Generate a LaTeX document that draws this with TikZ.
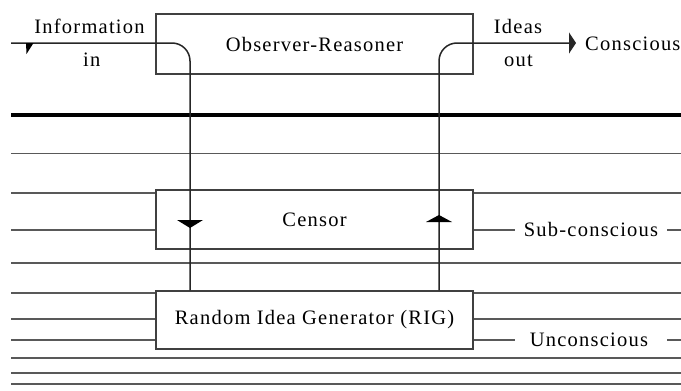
\documentclass[tikz,border=0pt]{standalone}
\usepackage{fontspec}
\setmainfont{Liberation Serif}[LetterSpace=6]
\usetikzlibrary{arrows.meta}
\begin{document}
\begin{tikzpicture}[x=1pt,y=-1pt,
  lay/.style={line width=1.6pt, draw=black!65},
  thick layer/.style={line width=4pt, draw=black},
  box/.style={draw=black!75, line width=1.4pt, fill=white, minimum width=317pt,
              inner sep=0pt, font=\fontsize{20.5}{24}\selectfont},
  lbl/.style={font=\fontsize{20.5}{24}\selectfont, inner sep=0pt, anchor=base},
  conn/.style={line width=1.5pt, draw=black!85},
  marker/.style={fill=black}]
\useasboundingbox (0,0) rectangle (681,391);
% layer lines
\draw[thick layer] (11,115) -- (681,115);
\foreach \yy in {153.5,263,358,373,384} {\draw[lay] (11,\yy) -- (681,\yy);}
\foreach \yy in {193,230} {\draw[lay] (11,\yy) -- (156,\yy);}
\foreach \yy in {293,319,340} {\draw[lay] (11,\yy) -- (156,\yy);}
\foreach \yy in {193} {\draw[lay] (473,\yy) -- (681,\yy);}
\foreach \yy in {293,319} {\draw[lay] (473,\yy) -- (681,\yy);}
\draw[lay] (473,230) -- (515,230);
\draw[lay] (667,230) -- (681,230);
\draw[lay] (473,340) -- (515,340);
\draw[lay] (667,340) -- (681,340);
% boxes
\node[box, minimum height=60pt] (obs) at (314.5,44) {Observer-Reasoner};
\node[box, minimum height=59pt] (cen) at (314.5,219.5) {Censor};
\node[box, minimum height=58pt] (rig) at (314.5,320) {Random Idea Generator (RIG)};
% connectors
\coordinate (inL) at (11,43);
\coordinate (ka) at (190,43);
\coordinate (kb) at (439,43);
\coordinate (outR) at (576,43);
\draw[conn, rounded corners=18pt] (inL) -- (ka) -- (ka |- rig.north);
\draw[conn, rounded corners=18pt, -{Triangle[length=7pt,width=21pt]}] (kb |- rig.north) -- (kb) -- (outR);
% markers
\fill[marker] (26,43) -- (33.5,43) -- (26.5,54) -- cycle;
\fill[marker] (177,220) -- (203,220) -- (190,228) -- cycle;
\fill[marker] (426,222) -- (452,222) -- (439,215) -- cycle;
% labels
\node[lbl] (tinfo) at (89.5,33) {Information};
\node[lbl] (tin) at (91.7,66.7) {in};
\node[lbl] (tideas) at (518,33) {Ideas};
\node[lbl] (tout) at (518.5,66.7) {out};
\node[lbl, anchor=base west] (tcons) at (585,50.7) {Conscious};
\node[lbl] (tsub) at (591,236.7) {Sub-conscious};
\node[lbl] (tunc) at (589,346.7) {Unconscious};
\end{tikzpicture}
\end{document}
